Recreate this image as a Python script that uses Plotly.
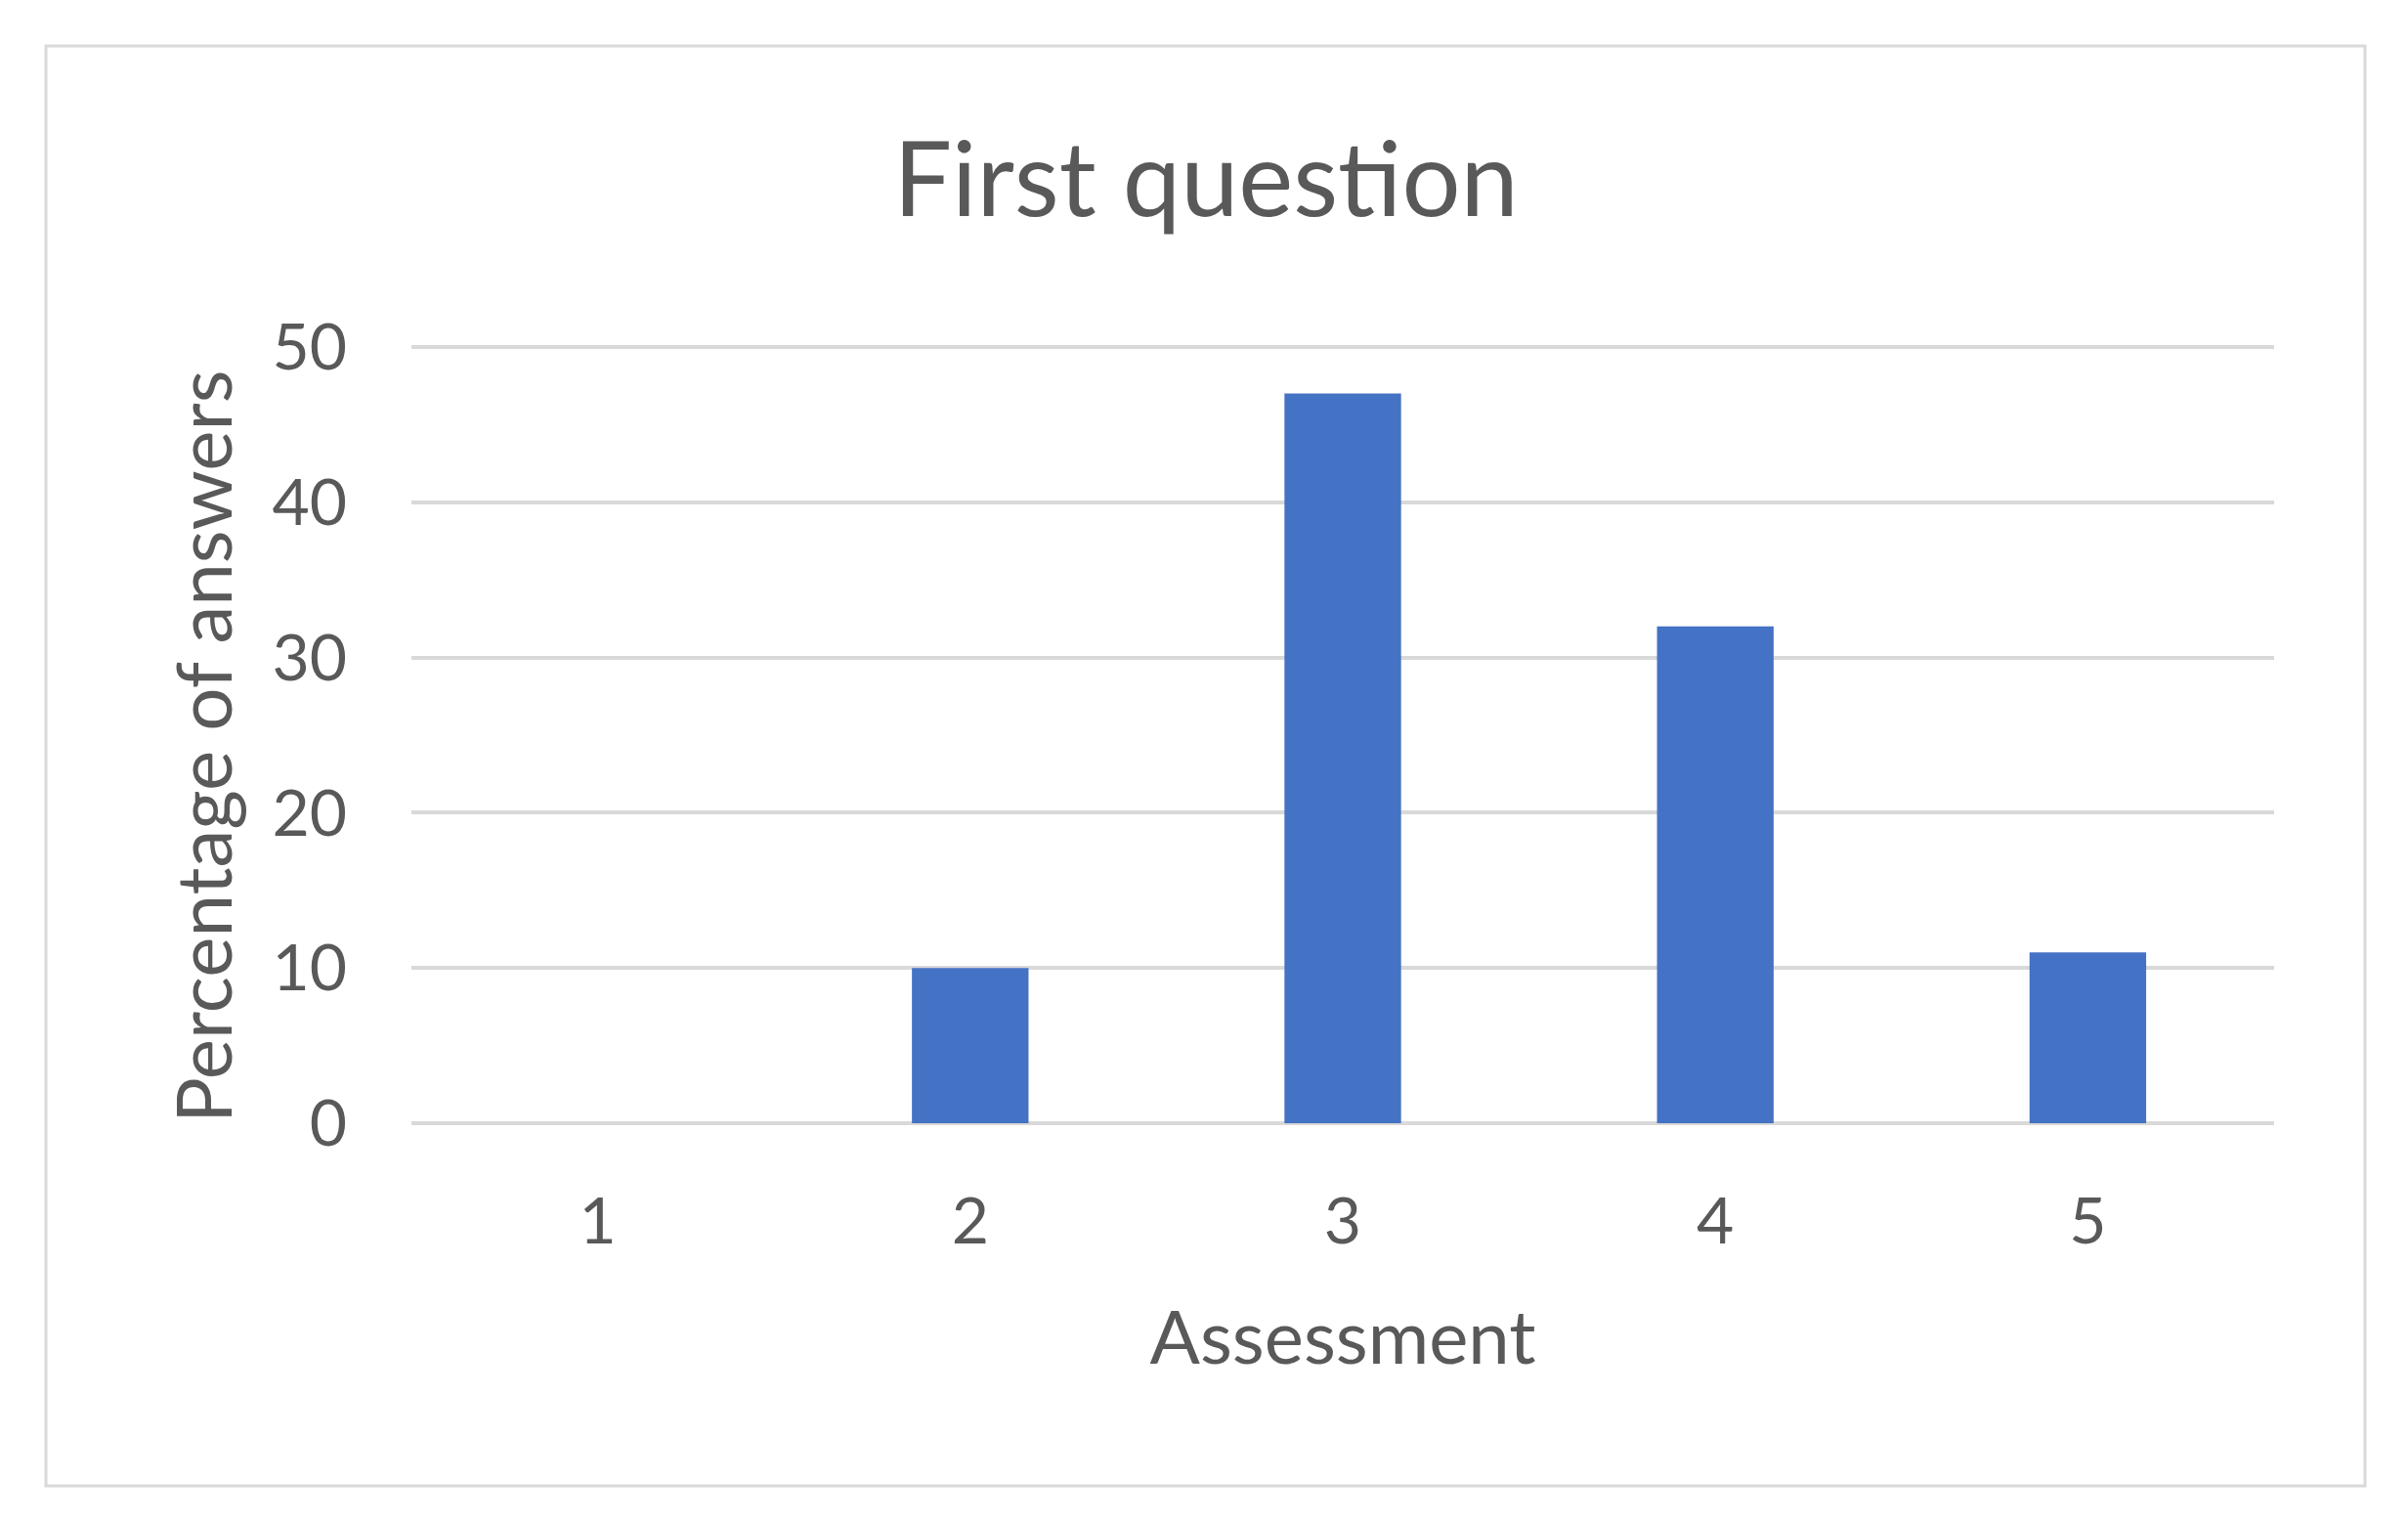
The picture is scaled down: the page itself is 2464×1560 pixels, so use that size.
import plotly.graph_objects as go

categories = ["1", "2", "3", "4", "5"]
values = [0, 10, 47, 32, 11]
y_ticks = [0, 10, 20, 30, 40, 50]

W, H = 2464, 1560
OFF = 8  # page body margin offset
EXT = 0.25  # small range extension so edge gridlines are drawn
# target pixel positions (full-size page coordinates)
X0, X1 = 421, 2327
Y0PX, Y50PX = 1149, 355
scale = (Y0PX - Y50PX) / 50.0
e = EXT * scale
L, R = X0 - OFF, W - X1 + OFF
T = int(round(Y50PX - e - OFF))
B = int(round(H - (Y0PX + e - OFF)))
pw, ph = W - L - R, H - T - B

TXT = "#595959"
GRID = "#d9d9d9"
FONT = "Lato, Carlito, Calibri, sans-serif"

fig = go.Figure(go.Bar(x=categories, y=values, marker=dict(color="#4472C4", line=dict(width=0)),
                       width=0.313))

def px_x(p):
    return (p - OFF - L) / pw

def px_y(p):
    return (H - B - (p - OFF)) / ph

fig.add_shape(type="rect", xref="paper", yref="paper",
              x0=px_x(47), x1=px_x(2420), y0=px_y(1520), y1=px_y(47),
              line=dict(color=GRID, width=3), fillcolor="rgba(0,0,0,0)", layer="below")

fig.add_annotation(text="Percentage of answers", xref="paper", yref="paper",
                   x=px_x(207), y=px_y(764), xanchor="center", yanchor="middle",
                   textangle=-90, showarrow=False,
                   font=dict(size=78, color=TXT, family=FONT))

fig.update_layout(
    width=W, height=H,
    margin=dict(l=L, r=R, t=T, b=B),
    paper_bgcolor="white", plot_bgcolor="white",
    font=dict(family=FONT, color=TXT),
    title=dict(text="First question", x=(1234 - OFF) / W, y=1 - (184 - OFF) / H,
               xanchor="center", yanchor="middle",
               font=dict(size=106, color=TXT, family=FONT)),
    showlegend=False,
    xaxis=dict(type="category", showgrid=False, showline=False, zeroline=False, ticks="",
               tickfont=dict(size=66, color=TXT), ticklabelstandoff=52,
               title=dict(text="Assessment", font=dict(size=76, color=TXT), standoff=56)),
    yaxis=dict(range=[-EXT, 50 + EXT], tickvals=y_ticks, showgrid=True, gridcolor=GRID, gridwidth=4,
               zeroline=False, showline=False, ticks="",
               tickfont=dict(size=66, color=TXT), ticklabelstandoff=65),
)

fig.write_html("out.html")
